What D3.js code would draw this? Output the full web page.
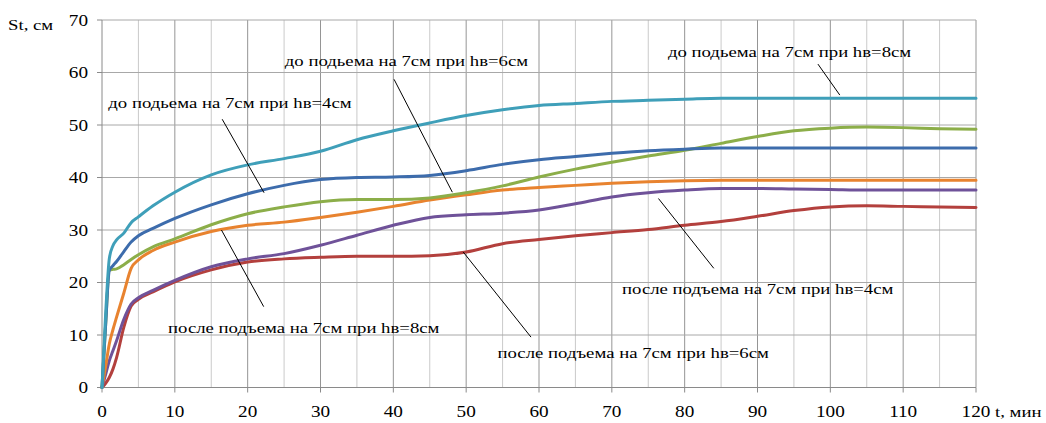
<!DOCTYPE html>
<html>
<head>
<meta charset="utf-8">
<script src="https://cdn.jsdelivr.net/npm/d3@7"></script>
<style>
  html, body { margin: 0; padding: 0; background: #fff; }
  svg { display: block; }
</style>
</head>
<body>
<svg id="chart" width="1046" height="423"></svg>
<script>
// ---- data ----
const times = [0, 0.5, 1, 1.5, 2, 3, 4, 5, 7, 10, 15, 20, 25, 30, 35, 40, 45, 50, 55, 60, 65, 70, 75, 80, 85, 90, 95, 100, 105, 110, 115, 120];

const before8 = [0, 14, 24.5, 27, 28.1, 29.4, 31.4, 32.5, 34.6, 37.2, 40.5, 42.4, 43.6, 45.0, 47.2, 48.9, 50.4, 51.8, 52.9, 53.7, 54.1, 54.5, 54.7, 54.9, 55.1, 55.1, 55.1, 55.1, 55.1, 55.1, 55.1, 55.1];
const before4 = [0, 12, 22.3, 23.2, 24.0, 25.9, 27.7, 28.9, 30.3, 32.2, 34.8, 36.9, 38.5, 39.6, 40.0, 40.1, 40.4, 41.3, 42.5, 43.4, 44.0, 44.6, 45.1, 45.4, 45.6, 45.6, 45.6, 45.6, 45.6, 45.6, 45.6, 45.6];
const before6 = [0, 12, 22.3, 22.5, 22.6, 23.4, 24.4, 25.3, 26.8, 28.3, 31.0, 33.1, 34.4, 35.4, 35.8, 35.8, 36.1, 37.1, 38.4, 40.1, 41.6, 42.9, 44.1, 45.2, 46.5, 47.8, 48.9, 49.4, 49.6, 49.5, 49.3, 49.2];
const after8 = [0, 4, 8.3, 11, 13.4, 18.0, 22.7, 24.3, 26.1, 27.7, 29.7, 30.9, 31.5, 32.4, 33.4, 34.5, 35.7, 36.7, 37.6, 38.1, 38.5, 38.9, 39.2, 39.4, 39.5, 39.5, 39.5, 39.5, 39.5, 39.5, 39.5, 39.5];
const after4 = [0, 2.5, 5.1, 7, 8.9, 13.0, 15.9, 17.1, 18.5, 20.4, 23.0, 24.5, 25.5, 27.1, 29.0, 30.9, 32.4, 32.9, 33.2, 33.8, 35.0, 36.3, 37.1, 37.6, 37.9, 37.9, 37.8, 37.7, 37.6, 37.6, 37.6, 37.6];
const after6 = [0, 0.8, 1.9, 3.5, 5.7, 11.5, 15.5, 16.8, 18.2, 20.1, 22.4, 23.9, 24.5, 24.8, 25.0, 25.0, 25.1, 25.8, 27.4, 28.2, 28.9, 29.5, 30.1, 30.9, 31.6, 32.6, 33.7, 34.4, 34.6, 34.5, 34.4, 34.3];

const xTicks = [0, 10, 20, 30, 40, 50, 60, 70, 80, 90, 100, 110, 120];
const xMinor = [5, 15, 25, 35, 45, 55, 65, 75, 85, 95, 105, 115];
const yTicks = [0, 10, 20, 30, 40, 50, 60, 70];

const seriesNames = ["после hв=6", "после hв=4", "после hв=8", "до hв=6", "до hв=4", "до hв=8"];
const seriesValues = [after6, after4, after8, before6, before4, before8];
const seriesColors = ["#b3403d", "#6f5299", "#e8832f", "#8cae49", "#3d6cac", "#3f9fb9"];

// annotations: text, text anchor (data coords: left, baseline), leader line (data coords)
const labels = [
  { text: "до подьема на 7см при hв=8см", t: 77.7, v: 62.9, line: [[98.3, 61.6], [101.3, 55.7]] },
  { text: "до подьема на 7см при hв=6см", t: 25.1, v: 61.2, line: [[40.1, 58.7], [48.1, 37.2]] },
  { text: "до подьема на 7см при hв=4см", t: 0.87, v: 53.2, line: [[16.5, 51.1], [22.25, 37.1]] },
  { text: "после подъема на 7см при hв=8см", t: 9.07, v: 10.3, line: [[16.4, 30.0], [22.2, 15.4]] },
  { text: "после подъема на 7см при hв=6см", t: 54.3, v: 5.6, line: [[49.6, 25.8], [58.9, 9.6]] },
  { text: "после подъема на 7см при hв=4см", t: 71.4, v: 17.9, line: [[76.4, 36.0], [84.0, 22.7]] }
];

// ---- drawing ----
const FONT = "'Liberation Serif', 'Times New Roman', 'DejaVu Serif', serif";
const svg = d3.select("#chart");
const x = d3.scaleLinear().domain([0, 120]).range([102, 976]);
const y = d3.scaleLinear().domain([0, 70]).range([387.5, 20]);

const STRETCH = 1.25;
function addText(px, py, str, size, anchor, sx) {
  svg.append("text")
    .attr("transform", `translate(${px},${py}) scale(${sx || STRETCH},1)`)
    .attr("text-anchor", anchor || "start")
    .attr("font-family", FONT)
    .attr("font-size", size)
    .attr("fill", "#000")
    .text(str);
}

// grid
svg.append("g").selectAll("line").data(xMinor).join("line")
  .attr("x1", d => x(d)).attr("x2", d => x(d))
  .attr("y1", y(0)).attr("y2", y(70))
  .attr("stroke", "#cacaca").attr("stroke-width", 1);
svg.append("g").selectAll("line").data(xTicks.slice(1)).join("line")
  .attr("x1", d => x(d)).attr("x2", d => x(d))
  .attr("y1", y(0)).attr("y2", y(70))
  .attr("stroke", "#959595").attr("stroke-width", 1);
svg.append("g").selectAll("line").data(yTicks.slice(1)).join("line")
  .attr("x1", x(0)).attr("x2", x(120))
  .attr("y1", d => y(d)).attr("y2", d => y(d))
  .attr("stroke", "#a8a8a8").attr("stroke-width", 1);

// axes
svg.append("line").attr("x1", x(0)).attr("x2", x(120)).attr("y1", y(0)).attr("y2", y(0))
  .attr("stroke", "#8a8a8a").attr("stroke-width", 1);
svg.append("line").attr("x1", x(0)).attr("x2", x(0)).attr("y1", y(0)).attr("y2", y(70))
  .attr("stroke", "#8a8a8a").attr("stroke-width", 1);
svg.append("g").selectAll("line").data(xTicks).join("line")
  .attr("x1", d => x(d)).attr("x2", d => x(d))
  .attr("y1", y(0)).attr("y2", y(0) + 5)
  .attr("stroke", "#8a8a8a");
svg.append("g").selectAll("line").data(yTicks).join("line")
  .attr("x1", x(0) - 5).attr("x2", x(0))
  .attr("y1", d => y(d)).attr("y2", d => y(d))
  .attr("stroke", "#8a8a8a");

// tick labels
xTicks.forEach(d => addText(x(d), 417, String(d), 16, "middle", 1.2));
yTicks.forEach(d => addText(88, y(d) + 5.5, String(d), 16, "end", 1.2));
addText(8, 29.5, "St, см", 15, "start");
addText(995, 417, "t, мин", 15, "start");

// curves
const line = d3.line().x(d => x(d[0])).y(d => y(d[1])).curve(d3.curveMonotoneX);
seriesValues.forEach((vals, i) => {
  svg.append("path")
    .datum(times.map((t, j) => [t, vals[j]]))
    .attr("d", line)
    .attr("fill", "none")
    .attr("stroke", seriesColors[i])
    .attr("stroke-width", 3)
    .attr("stroke-linejoin", "round")
    .attr("stroke-linecap", "round");
});

// annotations
labels.forEach(l => {
  svg.append("line")
    .attr("x1", x(l.line[0][0])).attr("y1", y(l.line[0][1]))
    .attr("x2", x(l.line[1][0])).attr("y2", y(l.line[1][1]))
    .attr("stroke", "#000").attr("stroke-width", 1);
  addText(x(l.t), y(l.v), l.text, 15, "start");
});
</script>
</body>
</html>
